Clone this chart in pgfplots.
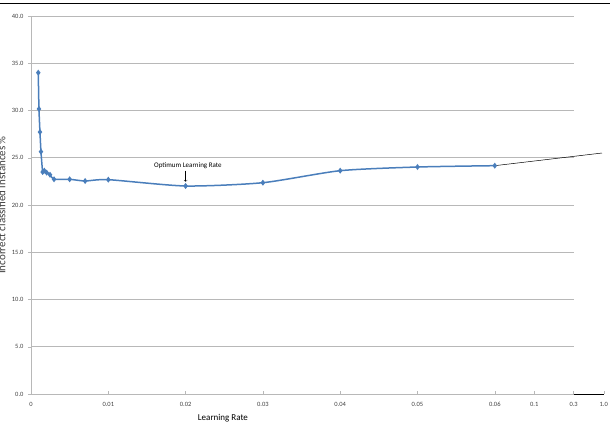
\documentclass[border=0pt]{standalone}
\usepackage{fontspec}
\setmainfont{Carlito}
\usepackage{pgfplots}
\pgfplotsset{compat=1.18}
\definecolor{xlblue}{HTML}{4A7EBB}
\definecolor{gridgray}{HTML}{B8B8B8}
\definecolor{ticktxt}{HTML}{404040}
\begin{document}
\begin{tikzpicture}
\useasboundingbox (-31pt,-33pt) rectangle (579pt,394pt);
\clip (-31pt,-33pt) rectangle (579pt,394pt);
\begin{axis}[
  at={(0,0)}, anchor=south west,
  scale only axis, width=573pt, height=378pt,
  xmin=0, xmax=0.07413, ymin=0, ymax=40,
  axis x line*=bottom, axis y line*=left,
  x axis line style={draw=none},
  y axis line style={draw=gridgray, -},
  xtick={0,0.01,0.02,0.03,0.04,0.05,0.06,0.0651,0.0702,0.0741},
  xticklabels={0,0.01,0.02,0.03,0.04,0.05,0.06,0.1,0.3,1.0},
  scaled x ticks=false,
  ytick={0,5,...,40},
  yticklabel style={/pgf/number format/fixed, /pgf/number format/fixed zerofill, /pgf/number format/precision=1, anchor=east, xshift=-1pt},
  /pgf/number format/assume math mode=true,
  tick label style={font=\fontsize{6.5}{7}\selectfont, text=ticktxt},
  xtick align=inside, ytick align=outside,
  major tick length=3pt,
  tick style={gridgray, thin},
  xticklabel style={anchor=north, yshift=-5pt},
  xlabel={Learning Rate},
  xlabel style={font=\fontsize{9}{10}\selectfont, at={(axis description cs:0.335,0)}, anchor=center, yshift=-24pt},
  clip=false,
]
\pgfplotsinvokeforeach{5,10,...,40}{\draw[gridgray, line width=0.6pt] (axis cs:0,#1) -- (axis cs:0.0702,#1);}
\draw[gridgray, line width=0.6pt] (axis cs:0,0) -- (axis cs:0.0702,0);
\draw[black, line width=0.6pt] (axis cs:0.0702,0) -- (axis cs:0.0741,0);
\addplot[black, line width=0.5pt] coordinates {(0.06,24.16) (0.07387,25.5)};
\addplot[xlblue, line width=1.5pt, smooth, tension=0.4, mark=diamond*, mark size=1.8pt, mark options={fill=xlblue, draw=xlblue}] coordinates {
(0.00094,34.0) (0.00103,30.16) (0.00116,27.72) (0.00129,25.64) (0.00151,23.49) (0.00172,23.63) (0.00203,23.42) (0.00246,23.2) (0.00298,22.72)
(0.005,22.72) (0.007,22.54) (0.01,22.68) (0.02,22.01) (0.03,22.36) (0.04,23.63) (0.05,24.02) (0.06,24.16)
};
\node[font=\fontsize{7}{8}\selectfont, anchor=base] at (axis cs:0.0203,24.02) {Optimum Learning Rate};
\draw[->, black, thin, >=to] (axis cs:0.0200,23.63) -- (axis cs:0.0200,22.46);
\end{axis}
\node[rotate=90, anchor=base, font=\fontsize{11}{12}\selectfont, text=ticktxt] at (-25.5pt,189pt) {Incorrect classified instances \%};
\draw[black, line width=1.3pt] (-31pt,390.5pt) -- (579pt,390.5pt);
\end{tikzpicture}
\end{document}
